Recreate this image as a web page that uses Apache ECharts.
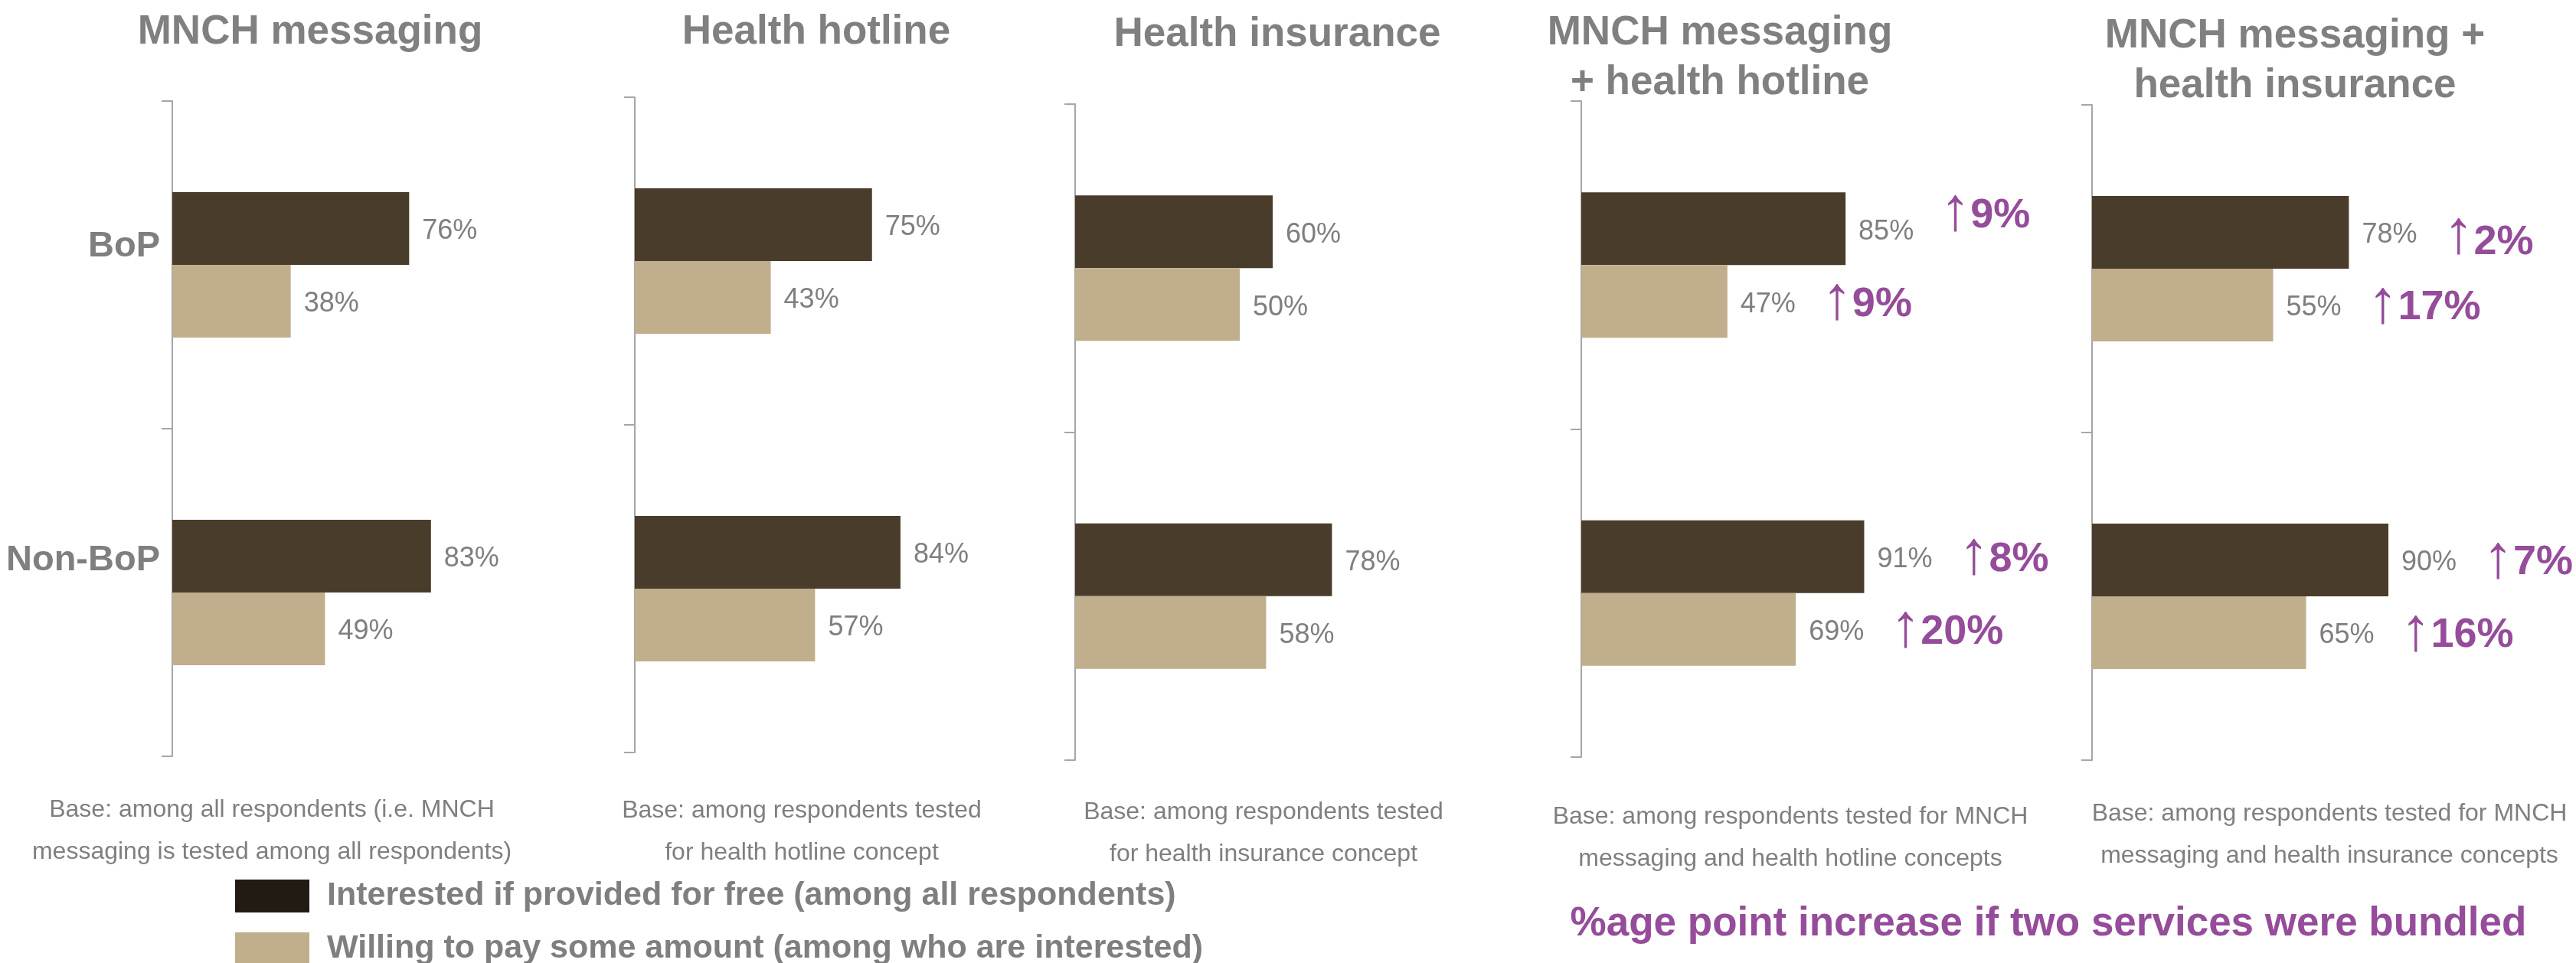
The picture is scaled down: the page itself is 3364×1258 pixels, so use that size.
<!DOCTYPE html>
<html>
<head>
<meta charset="utf-8">
<script src="https://cdn.jsdelivr.net/npm/echarts@6/dist/echarts.min.js"></script>
<style>
html,body{margin:0;padding:0;background:#ffffff;}
#chart{width:3364px;height:1258px;}
</style>
</head>
<body>
<div id="chart"></div>
<script>
// ---------------- data ----------------
const categories = ['BoP', 'Non-BoP'];
const seriesNames = [
  'Interested if provided for free (among all respondents)',
  'Willing to pay some amount (among who are interested)'
];
const panelTitles = [
  'MNCH messaging',
  'Health hotline',
  'Health insurance',
  'MNCH messaging\n+ health hotline',
  'MNCH messaging +\nhealth insurance'
];
const baseNotes = [
  'Base: among all respondents (i.e. MNCH\nmessaging is tested among all respondents)',
  'Base: among respondents tested\nfor health hotline concept',
  'Base: among respondents tested\nfor health insurance concept',
  'Base: among respondents tested for MNCH\nmessaging and health hotline concepts',
  'Base: among respondents tested for MNCH\nmessaging and health insurance concepts'
];
const footnote = '%age point increase if two services were bundled';

const mnchInterested = [76, 83];
const mnchWilling = [38, 49];
const hotlineInterested = [75, 84];
const hotlineWilling = [43, 57];
const insuranceInterested = [60, 78];
const insuranceWilling = [50, 58];
const mnchHotlineInterested = [85, 91];
const mnchHotlineWilling = [47, 69];
const mnchInsuranceInterested = [78, 90];
const mnchInsuranceWilling = [55, 65];
// percentage-point increase when bundled
const mnchHotlineIncInterested = [9, 8];
const mnchHotlineIncWilling = [9, 20];
const mnchInsuranceIncInterested = [2, 7];
const mnchInsuranceIncWilling = [17, 16];

// ---------------- layout / style ----------------
const FONT = '"Liberation Sans", Arial, Helvetica, sans-serif';
const GREY = '#7f7f7f';
const AXIS_GREY = '#a6a6a6';
const DARK = '#4a3c2a';
const TAN = '#c1ae8d';
const LEGEND_DARK = '#211b14';
const PURPLE = '#954c9a';

const panels = [
  { inter: mnchInterested, will: mnchWilling, incI: null, incW: null },
  { inter: hotlineInterested, will: hotlineWilling, incI: null, incW: null },
  { inter: insuranceInterested, will: insuranceWilling, incI: null, incW: null },
  { inter: mnchHotlineInterested, will: mnchHotlineWilling, incI: mnchHotlineIncInterested, incW: mnchHotlineIncWilling },
  { inter: mnchInsuranceInterested, will: mnchInsuranceWilling, incI: mnchInsuranceIncInterested, incW: mnchInsuranceIncWilling }
];

const layout = [
  { left: 225, top: 132, width: 407, height: 856, titleX: 405, titleTop: 10, noteX: 355, noteTop: 1031 },
  { left: 829, top: 127, width: 413, height: 856, titleX: 1066, titleTop: 10, noteX: 1047, noteTop: 1032 },
  { left: 1404, top: 136, width: 430, height: 857, titleX: 1668, titleTop: 13, noteX: 1650, noteTop: 1034 },
  { left: 2065, top: 132, width: 406, height: 857, titleX: 2246, titleTop: 11, noteX: 2338, noteTop: 1040 },
  { left: 2732, top: 137, width: 430, height: 856, titleX: 2997, titleTop: 15, noteX: 3042, noteTop: 1036 }
];
// vertical nudge of the increase annotations (px), [interested[], willing[]]
const annShift = [null, null, null, [[-21, 0], [0, 0]], [[10, 0], [0, 0]]];

function itemLabel(val, inc, shift) {
  const padA = shift < 0 ? [0, 0, 8 - 2 * shift, 0] : [0, 0, Math.max(0, 8 - 2 * shift), 0];
  const padN = shift < 0 ? [0, 0, -2 * shift, 0] : [2 * shift, 0, 0, 0];
  const text = inc == null
    ? '{val|' + val + '%}'
    : '{val|' + val + '%}{gap| }{arr|\u2191}{inc|' + inc + '%}';
  return {
    formatter: function () { return text; },
    rich: {
      val: { fontSize: 36, color: GREY, fontFamily: FONT },
      gap: { width: 34, fontSize: 36 },
      arr: { fontSize: 80, color: PURPLE, fontFamily: FONT, padding: padA },
      inc: { fontSize: 54, fontWeight: 'bold', color: PURPLE, fontFamily: FONT, padding: padN }
    }
  };
}

const grids = [], xAxes = [], yAxes = [], series = [], graphics = [];
panels.forEach(function (p, i) {
  const L = layout[i];
  grids.push({ left: L.left, top: L.top, width: L.width, height: L.height, containLabel: false });
  xAxes.push({ type: 'value', gridIndex: i, min: 0, max: 100, show: false });
  yAxes.push({
    type: 'category', gridIndex: i, data: categories, inverse: true,
    axisLine: { show: true, lineStyle: { color: AXIS_GREY, width: 2 } },
    axisTick: { show: true, length: 14, lineStyle: { color: AXIS_GREY, width: 2 } },
    axisLabel: {
      show: i === 0, margin: 16,
      formatter: function (v) { return v === 'BoP' ? '{bop|' + v + '}' : '{non|' + v + '}'; },
      rich: {
        bop: { fontSize: 47, fontWeight: 'bold', color: GREY, fontFamily: FONT, padding: [0, 0, 48, 0] },
        non: { fontSize: 47, fontWeight: 'bold', color: GREY, fontFamily: FONT, padding: [0, 0, 84, 0] }
      }
    },
    splitLine: { show: false }
  });
  const sets = [[p.inter, p.incI, DARK], [p.will, p.incW, TAN]];
  sets.forEach(function (s, k) {
    series.push({
      type: 'bar', name: seriesNames[k], xAxisIndex: i, yAxisIndex: i,
      barWidth: 95, barGap: '0%',
      itemStyle: { color: s[2] },
      label: { show: true, position: 'right', distance: 17, offset: [0, 4] },
      data: s[0].map(function (v, j) {
        const shift = annShift[i] ? annShift[i][k][j] : 0;
        return { value: v, label: itemLabel(v, s[1] ? s[1][j] : null, shift) };
      }),
      silent: true
    });
  });
  graphics.push({
    type: 'text', x: L.titleX, y: L.titleTop,
    style: { text: panelTitles[i], fill: '#808080', fontSize: 53, fontWeight: 'bold', fontFamily: FONT,
             align: 'center', verticalAlign: 'top', lineHeight: 65 }
  });
  graphics.push({
    type: 'text', x: L.noteX, y: L.noteTop,
    style: { text: baseNotes[i], fill: GREY, fontSize: 32, fontFamily: FONT,
             align: 'center', verticalAlign: 'top', lineHeight: 55 }
  });
});
graphics.push({
  type: 'text', x: 2675, y: 1181,
  style: { text: footnote, fill: PURPLE, fontSize: 53, fontWeight: 'bold', fontFamily: FONT,
           align: 'center', verticalAlign: 'top', lineHeight: 53 }
});

const chart = echarts.init(document.getElementById('chart'), null, { renderer: 'canvas' });
chart.setOption({
  backgroundColor: '#ffffff',
  animation: false,
  grid: grids,
  xAxis: xAxes,
  yAxis: yAxes,
  series: series,
  legend: {
    orient: 'vertical', left: 307, top: 1149, height: 160, padding: 0,
    itemWidth: 97, itemHeight: 43, itemGap: 26, icon: 'rect', selectedMode: false,
    data: [{ name: seriesNames[0], itemStyle: { color: LEGEND_DARK } }, { name: seriesNames[1] }],
    textStyle: { fontSize: 43, fontWeight: 'bold', color: GREY, fontFamily: FONT, padding: [0, 0, 0, 18] }
  },
  graphic: graphics
});
</script>
</body>
</html>
